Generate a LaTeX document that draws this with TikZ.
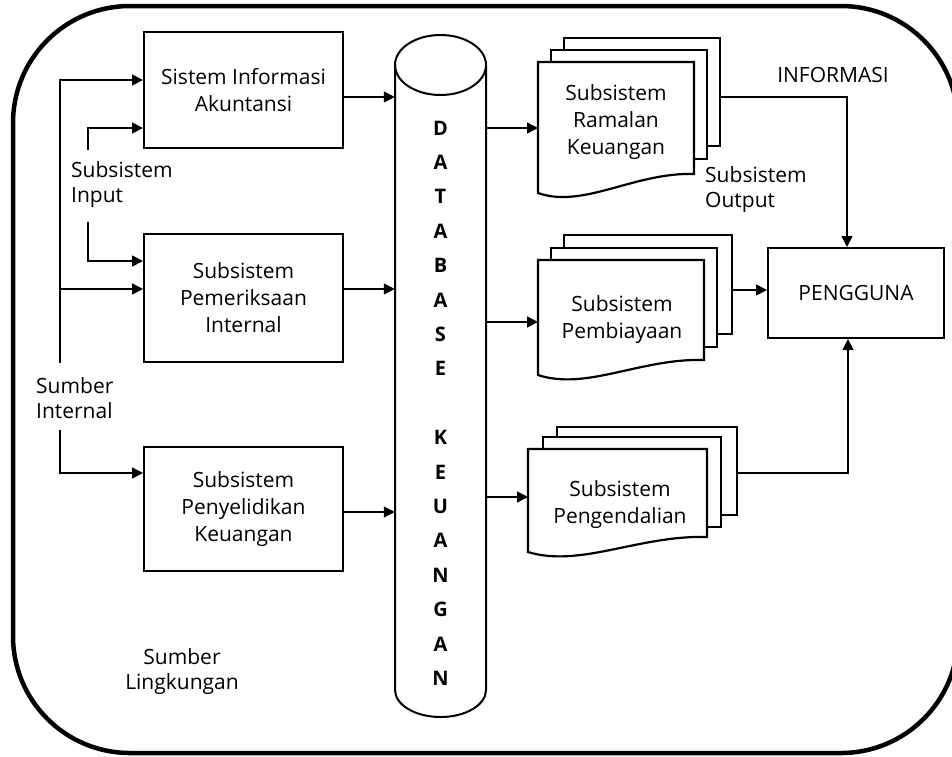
\documentclass[tikz,border=0pt]{standalone}
\usepackage{fontspec}
\setmainfont{Open Sans}
\usetikzlibrary{arrows.meta}

% front page of a document stack: left, top, right, bottom-left y, bottom-right y
\newcommand\docfront[5]{%
  \draw[page] (#1,#2) -- (#3,#2) -- (#3,#5)
    .. controls ({#1+0.62*(#3-#1)},{#5-2}) and ({#1+0.29*(#3-#1)},{#4+16}) .. (#1,#4) -- cycle;}

\begin{document}
\begin{tikzpicture}[x=1pt,y=-1pt,
  txt/.style={font=\fontsize{21}{27}\selectfont, align=center, inner sep=0pt},
  lbl/.style={font=\fontsize{21}{25}\selectfont, inner sep=0pt},
  procbox/.style={draw, line width=2pt, minimum width=199pt, txt},
  page/.style={draw, line width=2.2pt, fill=white},
  pagebox/.style={page, inner sep=0pt},
  conn/.style={line width=1.6pt},
  arr/.style={conn, -{Triangle[length=11pt,width=11pt]}},
  letter/.style={font=\bfseries\fontsize{20}{20}\selectfont, text height=14pt, text depth=0pt, inner sep=0pt}
]
\clip (0,0) rectangle (952,756);

% outer frame
\draw[line width=4.5pt, rounded corners=117pt] (13,6) rectangle (958,753);

% processing boxes
\node[procbox, minimum height=116pt] (b1) at (243.5,90) {Sistem Informasi\\Akuntansi};
\node[procbox, minimum height=128pt] (b2) at (243.5,298) {Subsistem\\Pemeriksaan\\Internal};
\node[procbox, minimum height=124pt] (b3) at (243.5,509) {Subsistem\\Penyelidikan\\Keuangan};

% database cylinder
\node[inner sep=0pt, minimum width=91pt, minimum height=682pt] (db) at (440.5,376) {};
\draw[line width=2pt] (395,65) -- (395,690)
  arc[start angle=180, end angle=0, x radius=45.5, y radius=27] -- (486,65);
\draw[line width=2pt] (440.5,65) ellipse [x radius=45.5, y radius=30];
\foreach \ch/\k in {D/0,A/1,T/2,A/3,B/4,A/5,S/6,E/7,K/9,E/10,U/11,A/12,N/13,G/14,A/15,N/16}
  \node[letter] (ltr\k) at (440.5,{128+34.4*\k}) {\ch};

% document stack: Ramalan Keuangan
\node[pagebox, minimum width=156pt, minimum height=108pt] (ra) at (642,92) {};
\node[pagebox, minimum width=156pt, minimum height=109pt] (rb) at (629,104.5) {};
\docfront{538}{62}{694}{193}{174}
\node[txt] (rf) at (616,122) {Subsistem\\Ramalan\\Keuangan};
\coordinate (rfw) at (538,128);

% document stack: Pembiayaan
\node[pagebox, minimum width=168pt, minimum height=99pt] (pa) at (648,284.5) {};
\node[pagebox, minimum width=166pt, minimum height=99pt] (pb) at (634,297.5) {};
\docfront{538}{260}{704}{375}{360}
\node[txt] (pf) at (622,320) {Subsistem\\Pembiayaan};
\coordinate (pfw) at (538,322);

% document stack: Pengendalian
\node[pagebox, minimum width=180pt, minimum height=88pt] (ka) at (647,471) {};
\node[pagebox, minimum width=178pt, minimum height=90pt] (kb) at (632,482) {};
\docfront{528}{449}{707}{552}{537}
\node[txt] (kf) at (620,505) {Subsistem\\Pengendalian};
\coordinate (kfw) at (528,497);

% user
\node[procbox, minimum width=176pt, minimum height=90pt] (pg) at (856,293) {PENGGUNA};

% labels
\node[lbl] (info) at (833,75) {INFORMASI};
\node[lbl, align=left, anchor=west] (subout) at (705,190) {Subsistem\\Output};
\node[lbl, align=left, anchor=west] (subin) at (71,185) {Subsistem\\Input};
\node[lbl, align=left, anchor=west] (sumint) at (36,398) {Sumber\\Internal};
\node[lbl, align=center] (sumling) at (182,672) {Sumber\\Lingkungan};

% internal sources into the boxes
\coordinate (trunk) at (60,363);
\coordinate (inA) at (88,150);
\coordinate (inB) at (88,222);
\coordinate (siB) at (60,430);
\draw[arr] (trunk) |- ([yshift=10pt]b1.west);
\draw[arr] ([yshift=9pt]b2.west -| trunk) -- ([yshift=9pt]b2.west);
\draw[arr] (inA) |- ([yshift=-38pt]b1.west);
\draw[arr] (inB) |- ([yshift=37pt]b2.west);
\draw[arr] (siB) |- ([yshift=36pt]b3.west);

% boxes into the database
\draw[arr] ([yshift=-7pt]b1.east) -- ([yshift=-7pt]b1.east -| db.west);
\draw[arr] ([yshift=9pt]b2.east) -- ([yshift=9pt]b2.east -| db.west);
\draw[arr] ([yshift=-3pt]b3.east) -- ([yshift=-3pt]b3.east -| db.west);

% database into the output subsystems
\draw[arr] (rfw -| db.east) -- (rfw);
\draw[arr] (pfw -| db.east) -- (pfw);
\draw[arr] (kfw -| db.east) -- (kfw);

% output subsystems into the user
\draw[arr] ([yshift=-5pt]ra.east) -| ([xshift=-9pt]pg.north);
\draw[arr] ([yshift=-5.5pt]pa.east) -- ([yshift=-5.5pt]pa.east -| pg.west);
\draw[arr] ([yshift=-2pt]ka.east) -| ([xshift=-8pt]pg.south);
\end{tikzpicture}
\end{document}
